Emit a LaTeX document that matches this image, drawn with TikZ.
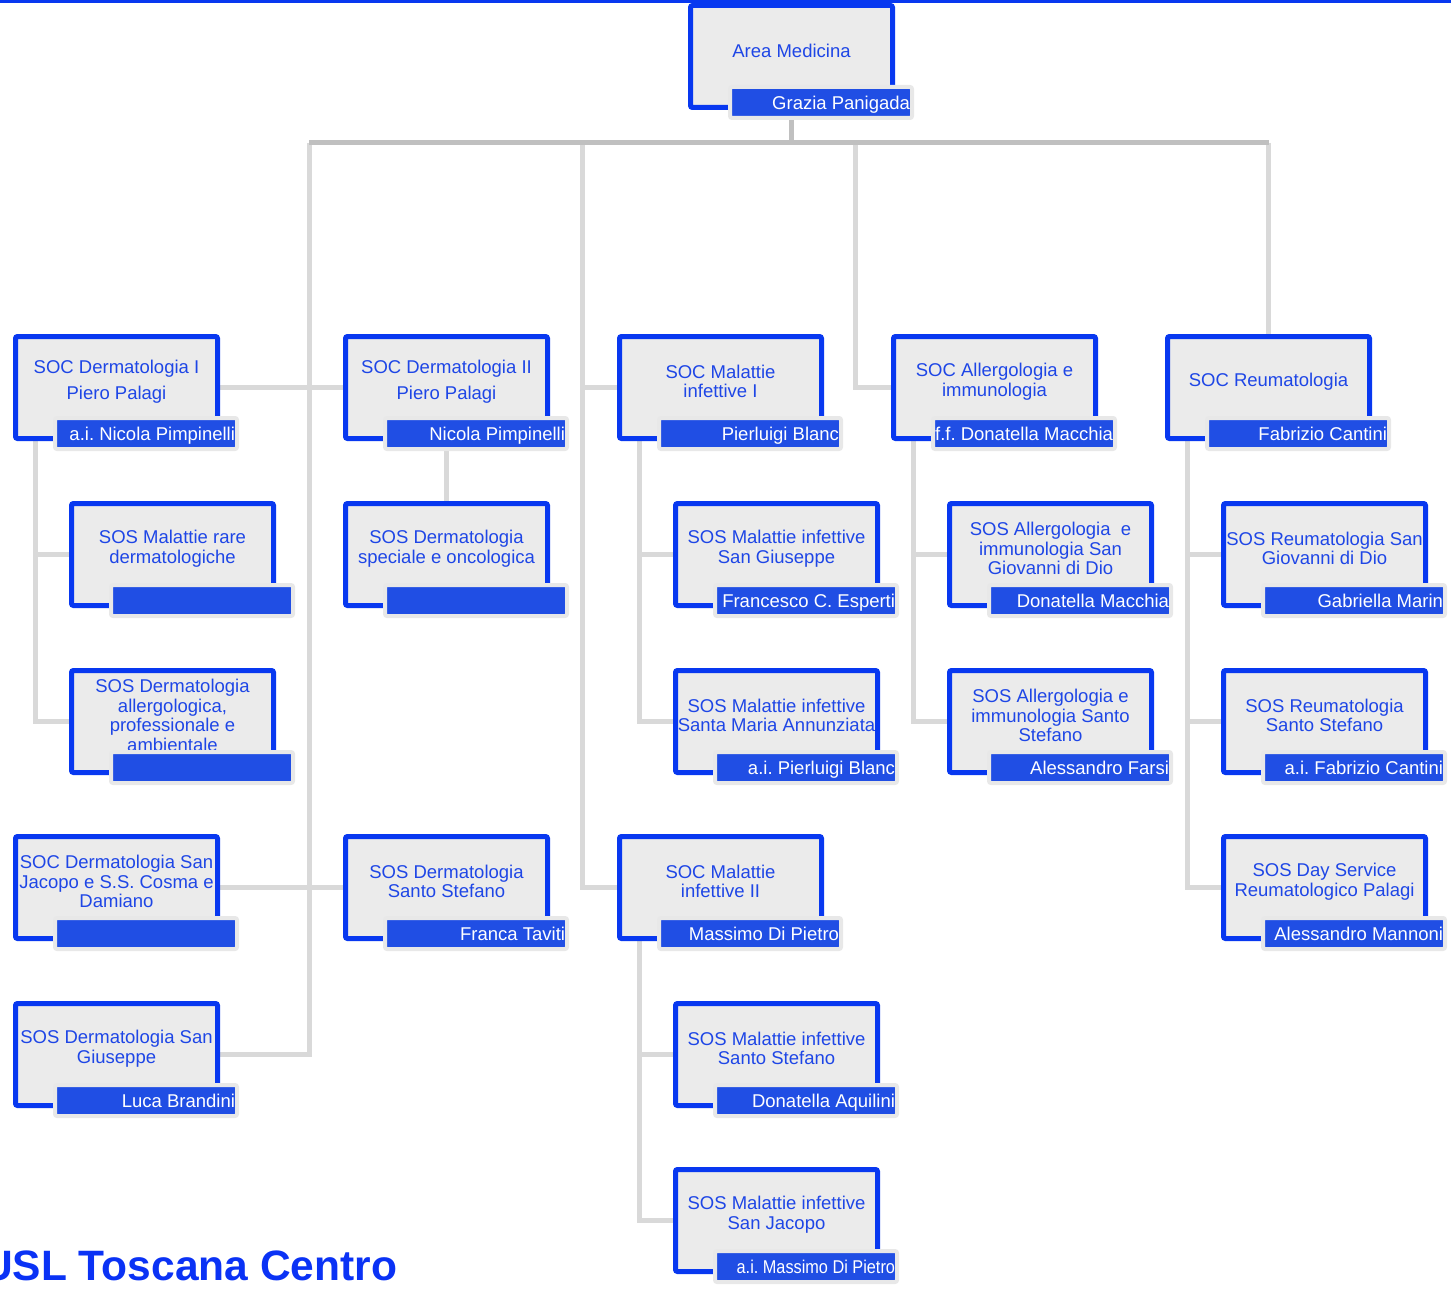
\documentclass[tikz,border=0pt]{standalone}
\usepackage{fontspec}
\setmainfont{Liberation Sans}
\usepackage{tikz}
\usetikzlibrary{backgrounds}
\definecolor{boxblue}{RGB}{8,56,240}
\definecolor{textblue}{RGB}{30,70,230}
\definecolor{barblue}{RGB}{32,78,228}
\definecolor{boxgray}{RGB}{235,235,235}
\definecolor{shadowgray}{RGB}{232,232,232}
\definecolor{linkgray}{RGB}{217,217,217}
\definecolor{trunkgray}{RGB}{192,192,192}
\definecolor{brandblue}{RGB}{10,50,245}
\frenchspacing

\begin{document}
\begin{tikzpicture}[x=1pt, y=-1pt,
    unit/.style={rectangle, draw=boxblue, fill=boxgray, line width=5pt,
      rounded corners=2pt, minimum width=202pt, minimum height=102pt,
      anchor=north west, inner sep=0pt},
    title/.style={text=textblue, align=center, inner sep=0pt,
      font=\fontsize{18.5}{19.5}\selectfont},
    namebar/.style={rectangle, draw=shadowgray, fill=barblue, line width=4pt,
      rounded corners=2pt, text=white, minimum width=182pt, minimum height=31pt,
      text width=178pt, align=flush right, inner xsep=2pt, inner ysep=0pt,
      text depth=0pt, anchor=north west, font=\fontsize{18.5}{19.5}\selectfont},
    link/.style={draw=linkgray, line width=5pt},
    trunk/.style={draw=trunkgray, line width=5pt}]
  \useasboundingbox (0,0) rectangle (1451,1289);
  \draw[boxblue, line width=3pt] (0,1.5) -- (1451,1.5);
  % units: name / x / y / title / head
  \foreach \n/\x/\y/\ttl/\who in {
      area/688/3/{Area Medicina}/{Grazia Panigada},
      derm1/13/334/{SOC Dermatologia I\\[7pt]Piero Palagi}/{a.i. Nicola Pimpinelli},
      derm1a/69/501/{SOS Malattie rare\\dermatologiche}/{},
      derm1b/69/668/{SOS Dermatologia\\allergologica,\\professionale e\\ambientale}/{},
      dermsj/13/834/{SOC Dermatologia San\\Jacopo e S.S. Cosma e\\Damiano}/{},
      dermsg/13/1001/{SOS Dermatologia San\\Giuseppe}/{Luca Brandini},
      derm2/343/334/{SOC Dermatologia II\\[7pt]Piero Palagi}/{Nicola Pimpinelli},
      derm2a/343/501/{SOS Dermatologia\\speciale e oncologica}/{},
      dermss/343/834/{SOS Dermatologia\\Santo Stefano}/{Franca Taviti},
      inf1/617/334/{SOC Malattie\\infettive I}/{Pierluigi Blanc},
      inf1a/673/501/{SOS Malattie infettive\\San Giuseppe}/{Francesco C. Esperti},
      inf1b/673/668/{SOS Malattie infettive\\Santa Maria Annunziata}/{a.i. Pierluigi Blanc},
      inf2/617/834/{SOC Malattie\\infettive II}/{Massimo Di Pietro},
      inf2a/673/1001/{SOS Malattie infettive\\Santo Stefano}/{Donatella Aquilini},
      inf2b/673/1167/{SOS Malattie infettive\\San Jacopo}/{\scalebox{0.88}[1]{a.i. Massimo Di Pietro}},
      allerg/891/334/{SOC Allergologia e\\immunologia}/{f.f. Donatella Macchia},
      allerga/947/501/{SOS Allergologia\ \ e\\immunologia San\\Giovanni di Dio}/{Donatella Macchia},
      allergb/947/668/{SOS Allergologia e\\immunologia Santo\\Stefano}/{Alessandro Farsi},
      reuma/1165/334/{SOC Reumatologia}/{Fabrizio Cantini},
      reumaa/1221/501/{SOS Reumatologia San\\Giovanni di Dio}/{Gabriella Marin},
      reumab/1221/668/{SOS Reumatologia\\Santo Stefano}/{a.i. Fabrizio Cantini},
      reumac/1221/834/{SOS Day Service\\Reumatologico Palagi}/{Alessandro Mannoni}}{
    \node[unit] (\n) at (\x,\y) {};
    \node[title] (\n-t) at (\x+103.5,\y+47.5) {\ttl};
    \node[namebar] (\n-n) at (\x+40,\y+82) {\who};
  }
  \node[anchor=base west, inner sep=0pt, text=brandblue,
    font=\fontsize{42.5}{44}\selectfont\bfseries] (brand) at (-18,1280) {USL Toscana Centro};
  % connectors
  \coordinate (bus-l) at (309,143);
  \coordinate (bus-m) at (582,143);
  \coordinate (bus-c) at (855,143);
  \begin{scope}[on background layer]
    \draw[link] (bus-l) |- (dermsg.east);
    \draw[link] (derm1.east) -- (derm2.west);
    \draw[link] (dermsj.east) -- (dermss.west);
    \draw[link] (bus-m) |- (inf2.west);
    \draw[link] (bus-m |- inf1.west) -- (inf1.west);
    \draw[link] (bus-c) |- (allerg.west);
    \draw[link] (bus-l -| reuma.north) -- (reuma.north);
    \draw[link] (derm2.south) -- (derm2a.north);
    \foreach \a/\b in {derm1/derm1a, derm1/derm1b, inf1/inf1a, inf1/inf1b,
        inf2/inf2a, inf2/inf2b, allerg/allerga, allerg/allergb,
        reuma/reumaa, reuma/reumab, reuma/reumac}
      \draw[link] ([xshift=22pt]\a.south west) |- (\b.west);
    \draw[trunk] (bus-l) -- (bus-l -| reuma.north);
    \draw[trunk] (area.south) -- (area.south |- bus-l);
  \end{scope}
\end{tikzpicture}
\end{document}
